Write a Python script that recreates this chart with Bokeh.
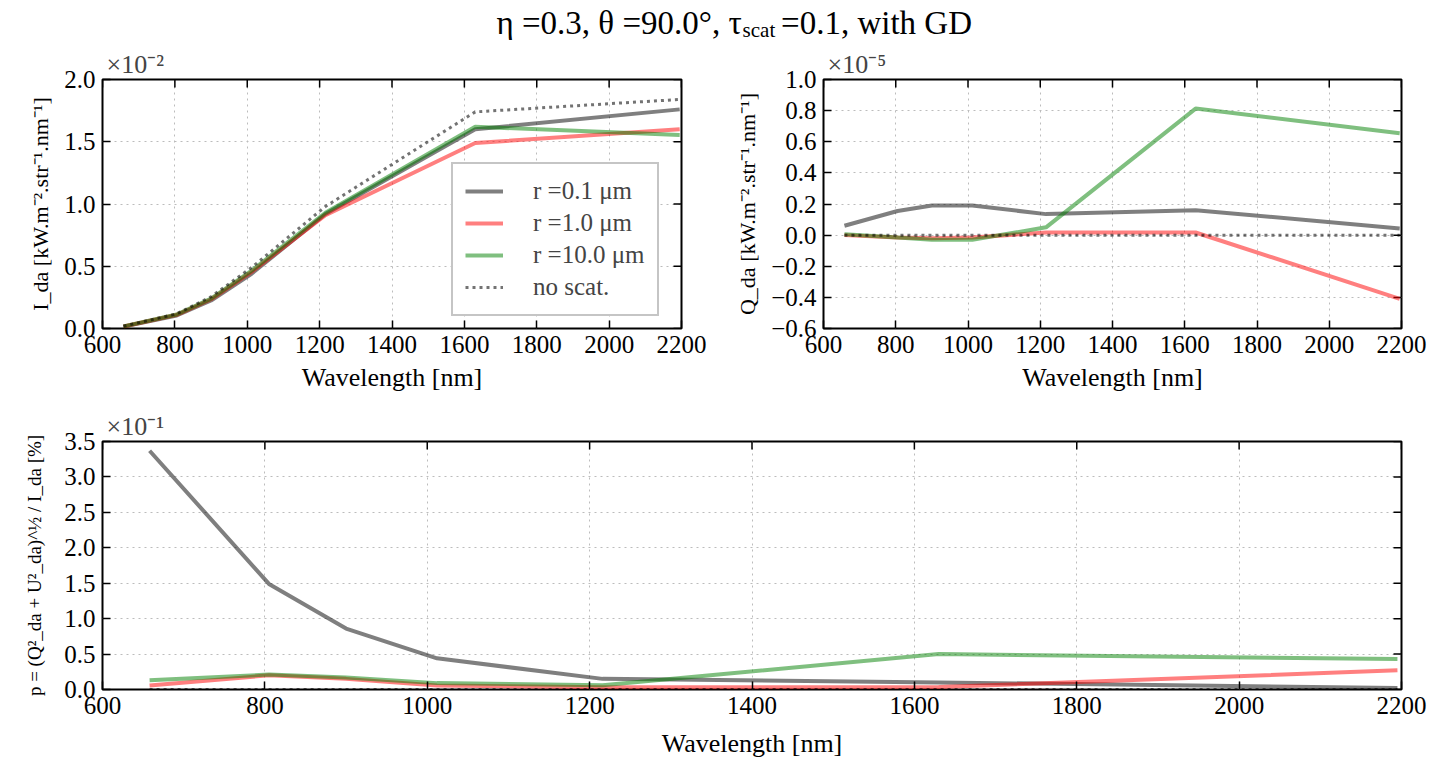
import math
from bokeh.plotting import figure
from bokeh.layouts import column, row
from bokeh.models import (Range1d, Legend, LegendItem, FixedTicker,
                          CustomJSTickFormatter)
from bokeh.core.properties import value
from bokeh.embed import file_html
from bokeh.resources import INLINE

# ---------------- data ----------------
wavelength = [658, 805, 900, 1012, 1216, 1630, 2195]

# I_da  (x 1e-2 kW m-2 str-1 nm-1)
I_r01 = [0.015, 0.105, 0.225, 0.44, 0.92, 1.60, 1.76]
I_r1 = [0.016, 0.110, 0.235, 0.455, 0.91, 1.49, 1.60]
I_r10 = [0.017, 0.112, 0.240, 0.465, 0.93, 1.62, 1.555]
I_noscat = [0.018, 0.118, 0.255, 0.49, 0.98, 1.74, 1.84]

# Q_da  (x 1e-5)
Q_r01 = [0.06, 0.155, 0.19, 0.19, 0.135, 0.16, 0.043]
Q_r1 = [0.0, -0.015, -0.02, -0.015, 0.017, 0.017, -0.41]
Q_r10 = [0.006, -0.015, -0.03, -0.03, 0.05, 0.813, 0.655]
Q_noscat = [0.0, 0.0, 0.0, 0.0, 0.0, 0.0, 0.0]

# p  (x 1e-1 %)
p_r01 = [3.37, 1.49, 0.86, 0.44, 0.15, 0.10, 0.02]
p_r1 = [0.056, 0.20, 0.15, 0.056, 0.03, 0.035, 0.27]
p_r10 = [0.13, 0.21, 0.17, 0.09, 0.06, 0.50, 0.43]
p_noscat = [0.0, 0.0, 0.0, 0.0, 0.0, 0.0, 0.0]

series_labels = ["r =0.1 μm", "r =1.0 μm", "r =10.0 μm", "no scat."]
x_ticks = [600, 800, 1000, 1200, 1400, 1600, 1800, 2000, 2200]
I_ticks = [0.0, 0.5, 1.0, 1.5, 2.0]
Q_ticks = [-0.6, -0.4, -0.2, 0.0, 0.2, 0.4, 0.6, 0.8, 1.0]
p_ticks = [0.0, 0.5, 1.0, 1.5, 2.0, 2.5, 3.0, 3.5]

FONT = "Liberation Serif"
COLORS = ["black", "red", "green", "black"]

fmt = CustomJSTickFormatter(code="""
var v = Math.abs(tick) < 1e-9 ? 0 : tick;
return v.toFixed(1).replace('-', '\\u2212');
""")


def style_axis(ax):
    ax.major_tick_in = 8
    ax.major_tick_out = 0
    ax.minor_tick_in = 0
    ax.minor_tick_out = 0
    ax.major_tick_line_color = "black"
    ax.major_tick_line_width = 1.5
    ax.axis_line_color = None
    ax.major_label_text_font = FONT
    ax.major_label_text_font_size = "25px"
    ax.major_label_text_color = "black"
    ax.major_label_standoff = 7
    ax.axis_label_text_font = FONT
    ax.axis_label_text_font_style = "normal"
    ax.axis_label_text_color = "black"


def make_fig(fw, fh, left, right, top, bottom, yr, yticks, ylabel, ylabel_size,
             ylabel_standoff, xlabel_standoff, sci):
    p = figure(frame_width=fw, frame_height=fh,
               x_range=Range1d(600, 2200), y_range=Range1d(*yr),
               output_backend="svg", toolbar_location=None,
               min_border_left=left, min_border_right=right,
               min_border_top=top, min_border_bottom=bottom)
    p.outline_line_color = "black"
    p.outline_line_width = 2
    p.background_fill_color = "white"
    p.border_fill_color = "white"

    xa = p.xaxis[0]
    ya = p.yaxis[0]
    xa.ticker = FixedTicker(ticks=x_ticks)
    ya.ticker = FixedTicker(ticks=yticks)
    ya.formatter = fmt
    style_axis(xa)
    style_axis(ya)
    xa.axis_label = "Wavelength [nm]"
    xa.axis_label_text_font_size = "26px"
    xa.axis_label_standoff = xlabel_standoff
    ya.axis_label = ylabel
    ya.axis_label_text_font_size = ylabel_size
    ya.axis_label_standoff = ylabel_standoff

    # inward ticks on the right and top edges
    p.ray(x=[2200] * len(yticks), y=yticks, length=8, length_units="screen",
          angle=math.pi, line_color="black", line_width=1.5)
    p.ray(x=x_ticks, y=[yr[1]] * len(x_ticks), length=8, length_units="screen",
          angle=-math.pi / 2, line_color="black", line_width=1.5)

    p.xgrid.grid_line_color = "#bcbcbc"
    p.ygrid.grid_line_color = "#bcbcbc"
    p.xgrid.grid_line_dash = "2 4"
    p.ygrid.grid_line_dash = "2 4"
    p.xgrid.grid_line_width = 1
    p.ygrid.grid_line_width = 1

    p.title.text = sci
    p.title.text_font = FONT
    p.title.text_font_size = "26px"
    p.title.text_font_style = "normal"
    p.title.align = "left"
    p.title.offset = 4
    p.title.standoff = 2
    return p


def add_lines(p, ys):
    rs = []
    for i, y in enumerate(ys):
        if i < 3:
            r = p.line(wavelength, y, line_color=COLORS[i], line_alpha=0.5,
                       line_width=4)
        else:
            r = p.line(wavelength, y, line_color="black", line_alpha=0.55,
                       line_width=3, line_dash="3 4")
        rs.append(r)
    return rs


# ---------------- header (title) ----------------
hdr = figure(width=1451, height=40, x_range=Range1d(0, 1451), y_range=Range1d(0, 40),
             output_backend="svg", toolbar_location=None, min_border=0,
             x_axis_type=None, y_axis_type=None)
hdr.outline_line_color = None
hdr.xgrid.visible = False
hdr.ygrid.visible = False
title_main = ["η =0.3, θ =90.0°, τ"]
title_sub = ["scat"]
title_tail = ["=0.1, with GD"]
A = 714
hdr.text(x=[A], y=[18], text=title_main, text_font=value(FONT), text_font_size="33px",
         text_align="right", text_baseline="middle", text_color="black")
hdr.text(x=[A + 1], y=[11], text=title_sub, text_font=value(FONT), text_font_size="21px",
         text_align="left", text_baseline="middle", text_color="black")
hdr.text(x=[A + 44], y=[18], text=title_tail, text_font=value(FONT), text_font_size="33px",
         text_align="left", text_baseline="middle", text_color="black")

# ---------------- plots ----------------
f1 = make_fig(579, 249, 102, 39, 39, 72, (0, 2.0), I_ticks,
              "I_da [kW.m⁻².str⁻¹.nm⁻¹]", "22px", 8, 7, "×10⁻²")
r1 = add_lines(f1, [I_r01, I_r1, I_r10, I_noscat])
leg = Legend(items=[LegendItem(label=series_labels[i], renderers=[r1[i]]) for i in range(4)],
             location=(349, 12))
leg.label_text_font = FONT
leg.label_text_font_size = "25px"
leg.glyph_width = 38
leg.glyph_height = 30
leg.label_height = 30
leg.label_standoff = 30
leg.padding = 12
leg.spacing = 2
leg.margin = 0
leg.border_line_color = "#8c8c8c"
leg.border_line_width = 2
leg.background_fill_color = "white"
leg.background_fill_alpha = 1
f1.add_layout(leg, "center")

f2 = make_fig(578, 249, 103, 50, 39, 72, (-0.6, 1.0), Q_ticks,
              "Q_da [kW.m⁻².str⁻¹.nm⁻¹]", "22px", 8, 7, "×10⁻⁵")
add_lines(f2, [Q_r01, Q_r1, Q_r10, Q_noscat])

f3 = make_fig(1299, 248, 102, 50, 41, 93, (0, 3.5), p_ticks,
              "p = (Q²_da + U²_da)^½ / I_da [%]", "19px", 16, 12, "×10⁻¹")
add_lines(f3, [p_r01, p_r1, p_r10, p_noscat])

layout = column(hdr, row(f1, f2, spacing=0), f3, spacing=0)

open("out.html", "w").write(file_html(layout, INLINE))
